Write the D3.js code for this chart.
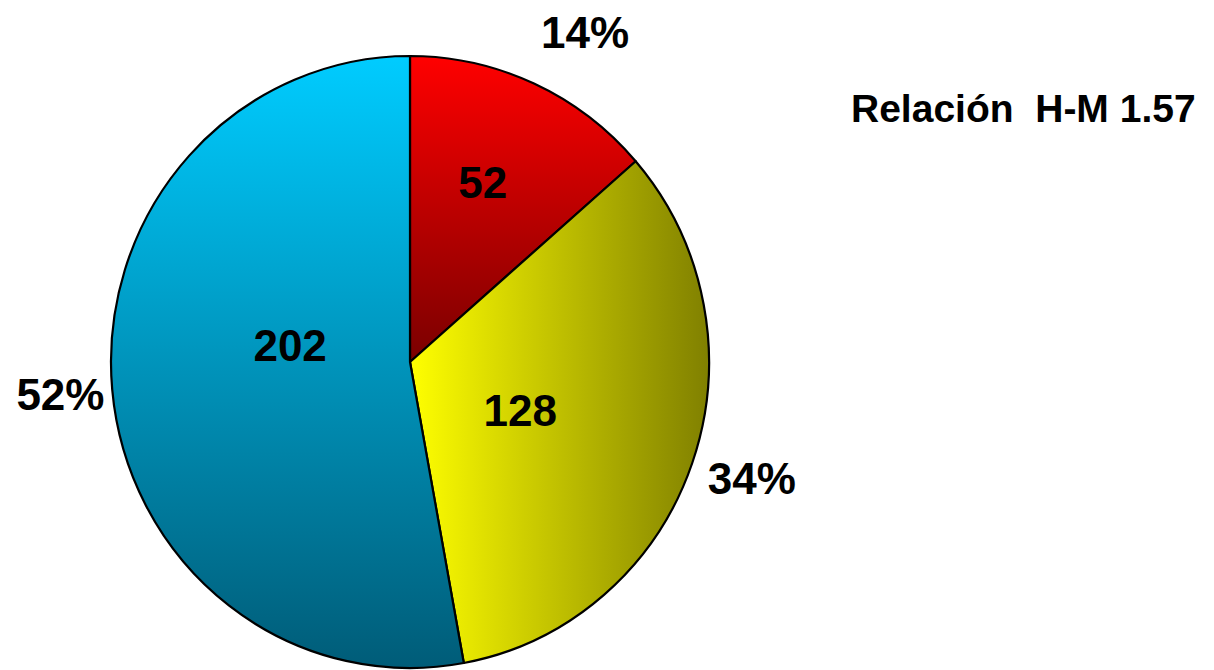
<!DOCTYPE html>
<html>
<head>
<meta charset="utf-8">
<script src="https://cdn.jsdelivr.net/npm/d3@7"></script>
<style>
  body { margin: 0; background: #fff; }
  text { font-family: "Liberation Sans", Arial, sans-serif; font-weight: bold; fill: #000; }
</style>
</head>
<body>
<div id="chart"></div>
<script>
// slice values, clockwise from 12 o'clock
const categories = ["A", "B", "C"];
const values = [52, 128, 202];
const percentLabels = ["14%", "34%", "52%"];
const note = "Relación  H-M 1.57";

const width = 1214, height = 670;
const cx = 410, cy = 362, rx = 299, ry = 306;

// label layout: [radius, angle shift in degrees]
const innerPos = [[190, -2], [120, 4], [121, 13]];
const outerPos = [[367, 4], [360, -1], [351, 0]];

const svg = d3.select("#chart").append("svg")
    .attr("width", width)
    .attr("height", height);

const defs = svg.append("defs");

function grad(id, x1, y1, x2, y2, c1, c2) {
  const g = defs.append("linearGradient")
    .attr("id", id)
    .attr("gradientUnits", "userSpaceOnUse")
    .attr("x1", x1).attr("y1", y1).attr("x2", x2).attr("y2", y2);
  g.append("stop").attr("offset", 0).attr("stop-color", c1);
  g.append("stop").attr("offset", 1).attr("stop-color", c2);
}
// coordinates are in the unscaled pie space (radius rx)
grad("g0", 0, -rx, 0, 0, "#ff0000", "#7a0000");
grad("g1", 0, 0, rx, 0, "#ffff00", "#808000");
grad("g2", 0, -rx, 0, rx, "#00ccff", "#005c78");
const fills = ["url(#g0)", "url(#g1)", "url(#g2)"];

const pie = d3.pie().sort(null).value(d => d);
const arcs = pie(values);

const arc = d3.arc().innerRadius(0).outerRadius(rx);

const pieG = svg.append("g")
    .attr("transform", `translate(${cx},${cy}) scale(1,${ry / rx})`);

pieG.selectAll("path")
  .data(arcs)
  .join("path")
    .attr("d", arc)
    .attr("fill", (d, i) => fills[i])
    .attr("stroke", "#000")
    .attr("stroke-width", 2.2)
    .attr("vector-effect", "non-scaling-stroke")
    .attr("stroke-linejoin", "round");

function labelPoint(d, pos) {
  const mid = (d.startAngle + d.endAngle) / 2 + pos[1] * Math.PI / 180;
  const c = d3.arc().innerRadius(pos[0]).outerRadius(pos[0])
    .centroid({ startAngle: mid, endAngle: mid });
  return [cx + c[0], cy + c[1] * ry / rx];
}

const labelG = svg.append("g");

labelG.selectAll("text.val")
  .data(arcs)
  .join("text")
    .attr("class", "val")
    .attr("text-anchor", "middle")
    .attr("dy", "0.36em")
    .style("font-size", "44px")
    .attr("x", (d, i) => labelPoint(d, innerPos[i])[0])
    .attr("y", (d, i) => labelPoint(d, innerPos[i])[1])
    .text(d => d.data);

labelG.selectAll("text.pct")
  .data(arcs)
  .join("text")
    .attr("class", "pct")
    .attr("text-anchor", "middle")
    .attr("dy", "0.36em")
    .style("font-size", "44px")
    .attr("x", (d, i) => labelPoint(d, outerPos[i])[0])
    .attr("y", (d, i) => labelPoint(d, outerPos[i])[1])
    .text((d, i) => percentLabels[i]);

svg.append("text")
    .attr("x", 851)
    .attr("y", 122)
    .style("font-size", "39px")
    .style("white-space", "pre")
    .attr("xml:space", "preserve")
    .text(note);
</script>
</body>
</html>
